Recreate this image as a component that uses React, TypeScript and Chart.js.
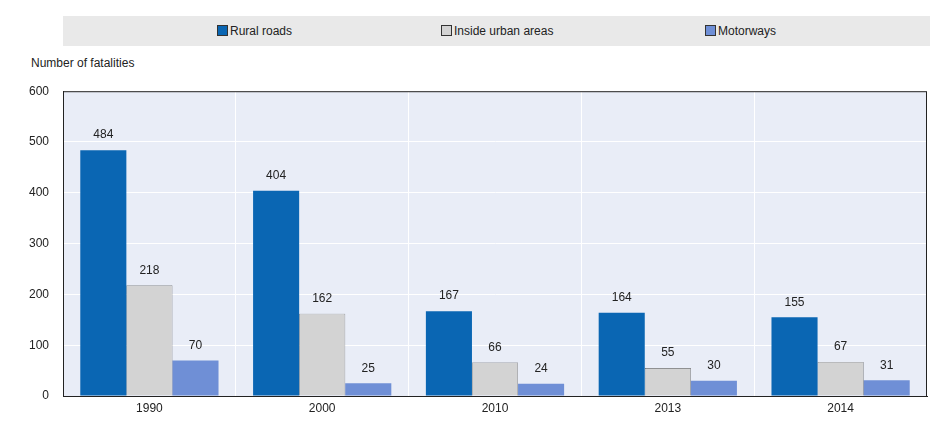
import React, { useEffect, useRef } from "react";
import { Chart, registerables } from "chart.js";
Chart.register(...registerables);

const categories = ["1990", "2000", "2010", "2013", "2014"];
const rural = [484, 404, 167, 164, 155];
const urban = [218, 162, 66, 55, 67];
const motorways = [70, 25, 24, 30, 31];
const seriesNames = ["Rural roads", "Inside urban areas", "Motorways"];
const colors = ["#0a66b3", "#d3d3d3", "#6f8fd6"];
const FONT = "'Liberation Sans', Arial, sans-serif";

const labelsPlugin = {
  id: "vals",
  afterDatasetsDraw(chart: any) {
    const ctx = chart.ctx;
    ctx.save();
    ctx.font = "12px " + FONT;
    ctx.fillStyle = "#222";
    ctx.textAlign = "center";
    ctx.textBaseline = "bottom";
    chart.data.datasets.forEach((ds: any, i: number) => {
      chart.getDatasetMeta(i).data.forEach((bar: any, j: number) => {
        ctx.fillText(String(ds.data[j]), bar.x, bar.y - 9);
      });
    });
    const a = chart.chartArea;
    ctx.strokeStyle = "#222";
    ctx.lineWidth = 1;
    ctx.strokeRect(a.left + 0.5, a.top + 0.5, a.right - a.left - 1, a.bottom - a.top);
    ctx.restore();
  },
};
const bgPlugin = {
  id: "bg",
  beforeDraw(chart: any) {
    const a = chart.chartArea;
    chart.ctx.save();
    chart.ctx.fillStyle = "#e9edf7";
    chart.ctx.fillRect(a.left, a.top, a.right - a.left, a.bottom - a.top);
    chart.ctx.restore();
  },
};

export default function App() {
  const ref = useRef<HTMLCanvasElement>(null);
  useEffect(() => {
    const data = [rural, urban, motorways];
    const chart = new Chart(ref.current!, {
      type: "bar",
      data: {
        labels: categories,
        datasets: data.map((d, i) => ({
          label: seriesNames[i],
          data: d,
          backgroundColor: colors[i],
          borderColor: i === 1 ? "#555" : colors[i],
          borderWidth: i === 1 ? 0.6 : 0,
          categoryPercentage: 0.8,
          barPercentage: 1,
        })),
      },
      options: {
        animation: false,
        responsive: false,
        layout: { padding: { top: 2, right: 16, left: 0, bottom: 0 } },
        plugins: { legend: { display: false }, tooltip: { enabled: false } },
        scales: {
          x: {
            grid: { color: "#ffffff", lineWidth: 1, offset: true, drawTicks: false },
            border: { color: "#222" },
            ticks: { color: "#222", font: { family: FONT, size: 12 }, padding: 5 },
            afterFit: (s: any) => { s.height = 28; },
          },
          y: {
            min: 0, max: 600,
            grid: { color: "#ffffff", lineWidth: 1, drawTicks: false },
            border: { color: "#222" },
            ticks: { stepSize: 100, color: "#222", font: { family: FONT, size: 12 }, padding: 14 },
            afterFit: (s: any) => { s.width = 63; },
          },
        },
      },
      plugins: [bgPlugin, labelsPlugin],
    });
    return () => chart.destroy();
  }, []);

  const sw = (c: string, border: string) => (
    <span style={{ display: "inline-block", width: 9, height: 9, background: c, border: "1px solid " + border, marginRight: 2, verticalAlign: "-1px" }} />
  );

  return (
    <div style={{ position: "absolute", left: 0, top: 0, width: 943, height: 424, background: "#fff", fontFamily: FONT, color: "#222", overflow: "hidden" }}>
      <div style={{ position: "absolute", left: 63, top: 16, width: 867, height: 30, background: "#e9e9e9", fontSize: 12 }}>
        <span style={{ position: "absolute", left: 154, top: 8 }}>{sw(colors[0], "#333")}Rural roads</span>
        <span style={{ position: "absolute", left: 378, top: 8 }}>{sw(colors[1], "#333")}Inside urban areas</span>
        <span style={{ position: "absolute", left: 642, top: 8 }}>{sw(colors[2], "#333")}Motorways</span>
      </div>
      <div style={{ position: "absolute", left: 31, top: 56, fontSize: 12 }}>Number of fatalities</div>
      <canvas ref={ref} width={943} height={354} style={{ position: "absolute", left: 0, top: 70, width: 943, height: 354 }} />
    </div>
  );
}
